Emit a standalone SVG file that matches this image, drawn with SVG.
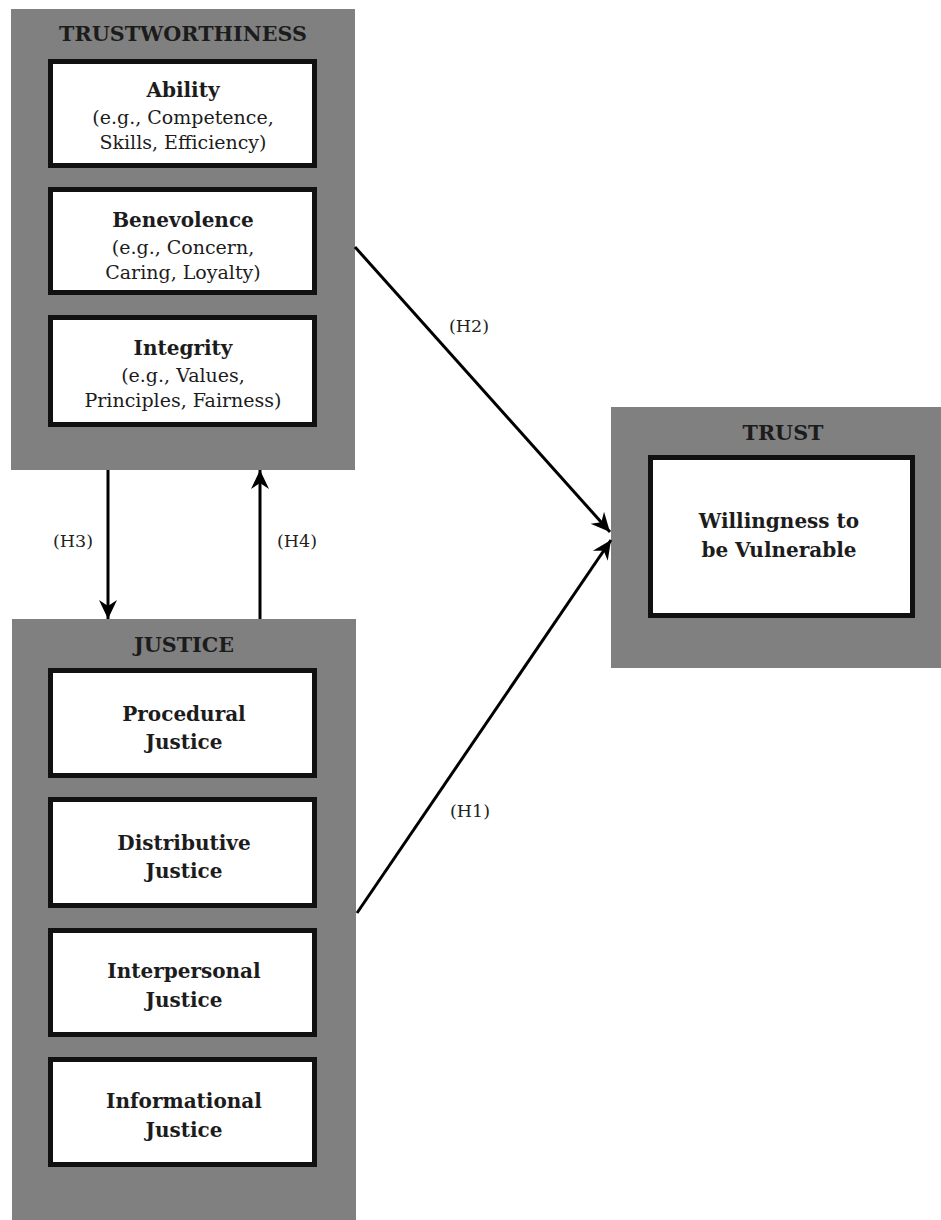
<svg xmlns="http://www.w3.org/2000/svg" width="941" height="1220" viewBox="0 0 941 1220">
<style>
.panel{fill:#808080}
.box{fill:#fff;stroke:#111;stroke-width:5}
.t{font-family:"DejaVu Serif","Liberation Serif",serif;fill:#1c1c1c;text-anchor:middle}
.h{font-size:20.7px;font-weight:bold}
.b{font-size:20px;font-weight:bold}
.n{font-size:19px}
.lbl{font-family:"DejaVu Serif","Liberation Serif",serif;fill:#222;font-size:17.5px;text-anchor:middle}
.conn{stroke:#000;stroke-width:3;fill:none;marker-end:url(#arr)}
</style>
<defs>
<marker id="arr" markerUnits="userSpaceOnUse" markerWidth="24" markerHeight="20" viewBox="-20 -10 22 20" refX="0" refY="0" orient="auto">
<path d="M0,0 L-19,-9 L-13,0 L-19,9 Z" fill="#000"/>
</marker>
</defs>
<rect width="941" height="1220" fill="#fff"/>
<g id="trustworthiness">
<rect class="panel" x="11" y="9" width="344" height="461"/>
<text class="t h" x="183" y="41">TRUSTWORTHINESS</text>
</g>
<g id="ability">
<rect class="box" x="50.5" y="61.5" width="264" height="104"/>
<text class="t b" x="183" y="97">Ability</text>
<text class="t n" x="183" y="124">(e.g., Competence,</text>
<text class="t n" x="183" y="149">Skills, Efficiency)</text>
</g>
<g id="benevolence">
<rect class="box" x="50.5" y="189.5" width="264" height="103"/>
<text class="t b" x="183" y="227">Benevolence</text>
<text class="t n" x="183" y="254">(e.g., Concern,</text>
<text class="t n" x="183" y="279">Caring, Loyalty)</text>
</g>
<g id="integrity">
<rect class="box" x="50.5" y="317.5" width="264" height="107"/>
<text class="t b" x="183" y="355">Integrity</text>
<text class="t n" x="183" y="382">(e.g., Values,</text>
<text class="t n" x="183" y="407">Principles, Fairness)</text>
</g>
<g id="justice">
<rect class="panel" x="12" y="619" width="344" height="601"/>
<text class="t h" x="184" y="652">JUSTICE</text>
</g>
<g id="procedural">
<rect class="box" x="50.5" y="670.5" width="264" height="105"/>
<text class="t b" x="184" y="721">Procedural</text>
<text class="t b" x="184" y="749">Justice</text>
</g>
<g id="distributive">
<rect class="box" x="50.5" y="799.5" width="264" height="106"/>
<text class="t b" x="184" y="850">Distributive</text>
<text class="t b" x="184" y="878">Justice</text>
</g>
<g id="interpersonal">
<rect class="box" x="50.5" y="930.5" width="264" height="104"/>
<text class="t b" x="184" y="978">Interpersonal</text>
<text class="t b" x="184" y="1007">Justice</text>
</g>
<g id="informational">
<rect class="box" x="50.5" y="1059.5" width="264" height="105"/>
<text class="t b" x="184" y="1108">Informational</text>
<text class="t b" x="184" y="1137">Justice</text>
</g>
<g id="trust">
<rect class="panel" x="611" y="407" width="330" height="261"/>
<text class="t h" x="783" y="440">TRUST</text>
<rect class="box" x="650.5" y="457.5" width="262" height="158"/>
<text class="t b" x="779" y="528">Willingness to</text>
<text class="t b" x="779" y="557">be Vulnerable</text>
</g>
<g id="connectors">
<line class="conn" x1="108" y1="470" x2="108" y2="619"/>
<line class="conn" x1="260" y1="619" x2="260" y2="470"/>
<line class="conn" x1="355" y1="247" x2="610" y2="532"/>
<line class="conn" x1="357" y1="913" x2="611" y2="540"/>
<text class="lbl" x="73" y="547">(H3)</text>
<text class="lbl" x="297" y="547">(H4)</text>
<text class="lbl" x="469" y="332">(H2)</text>
<text class="lbl" x="470" y="817">(H1)</text>
</g>
</svg>
